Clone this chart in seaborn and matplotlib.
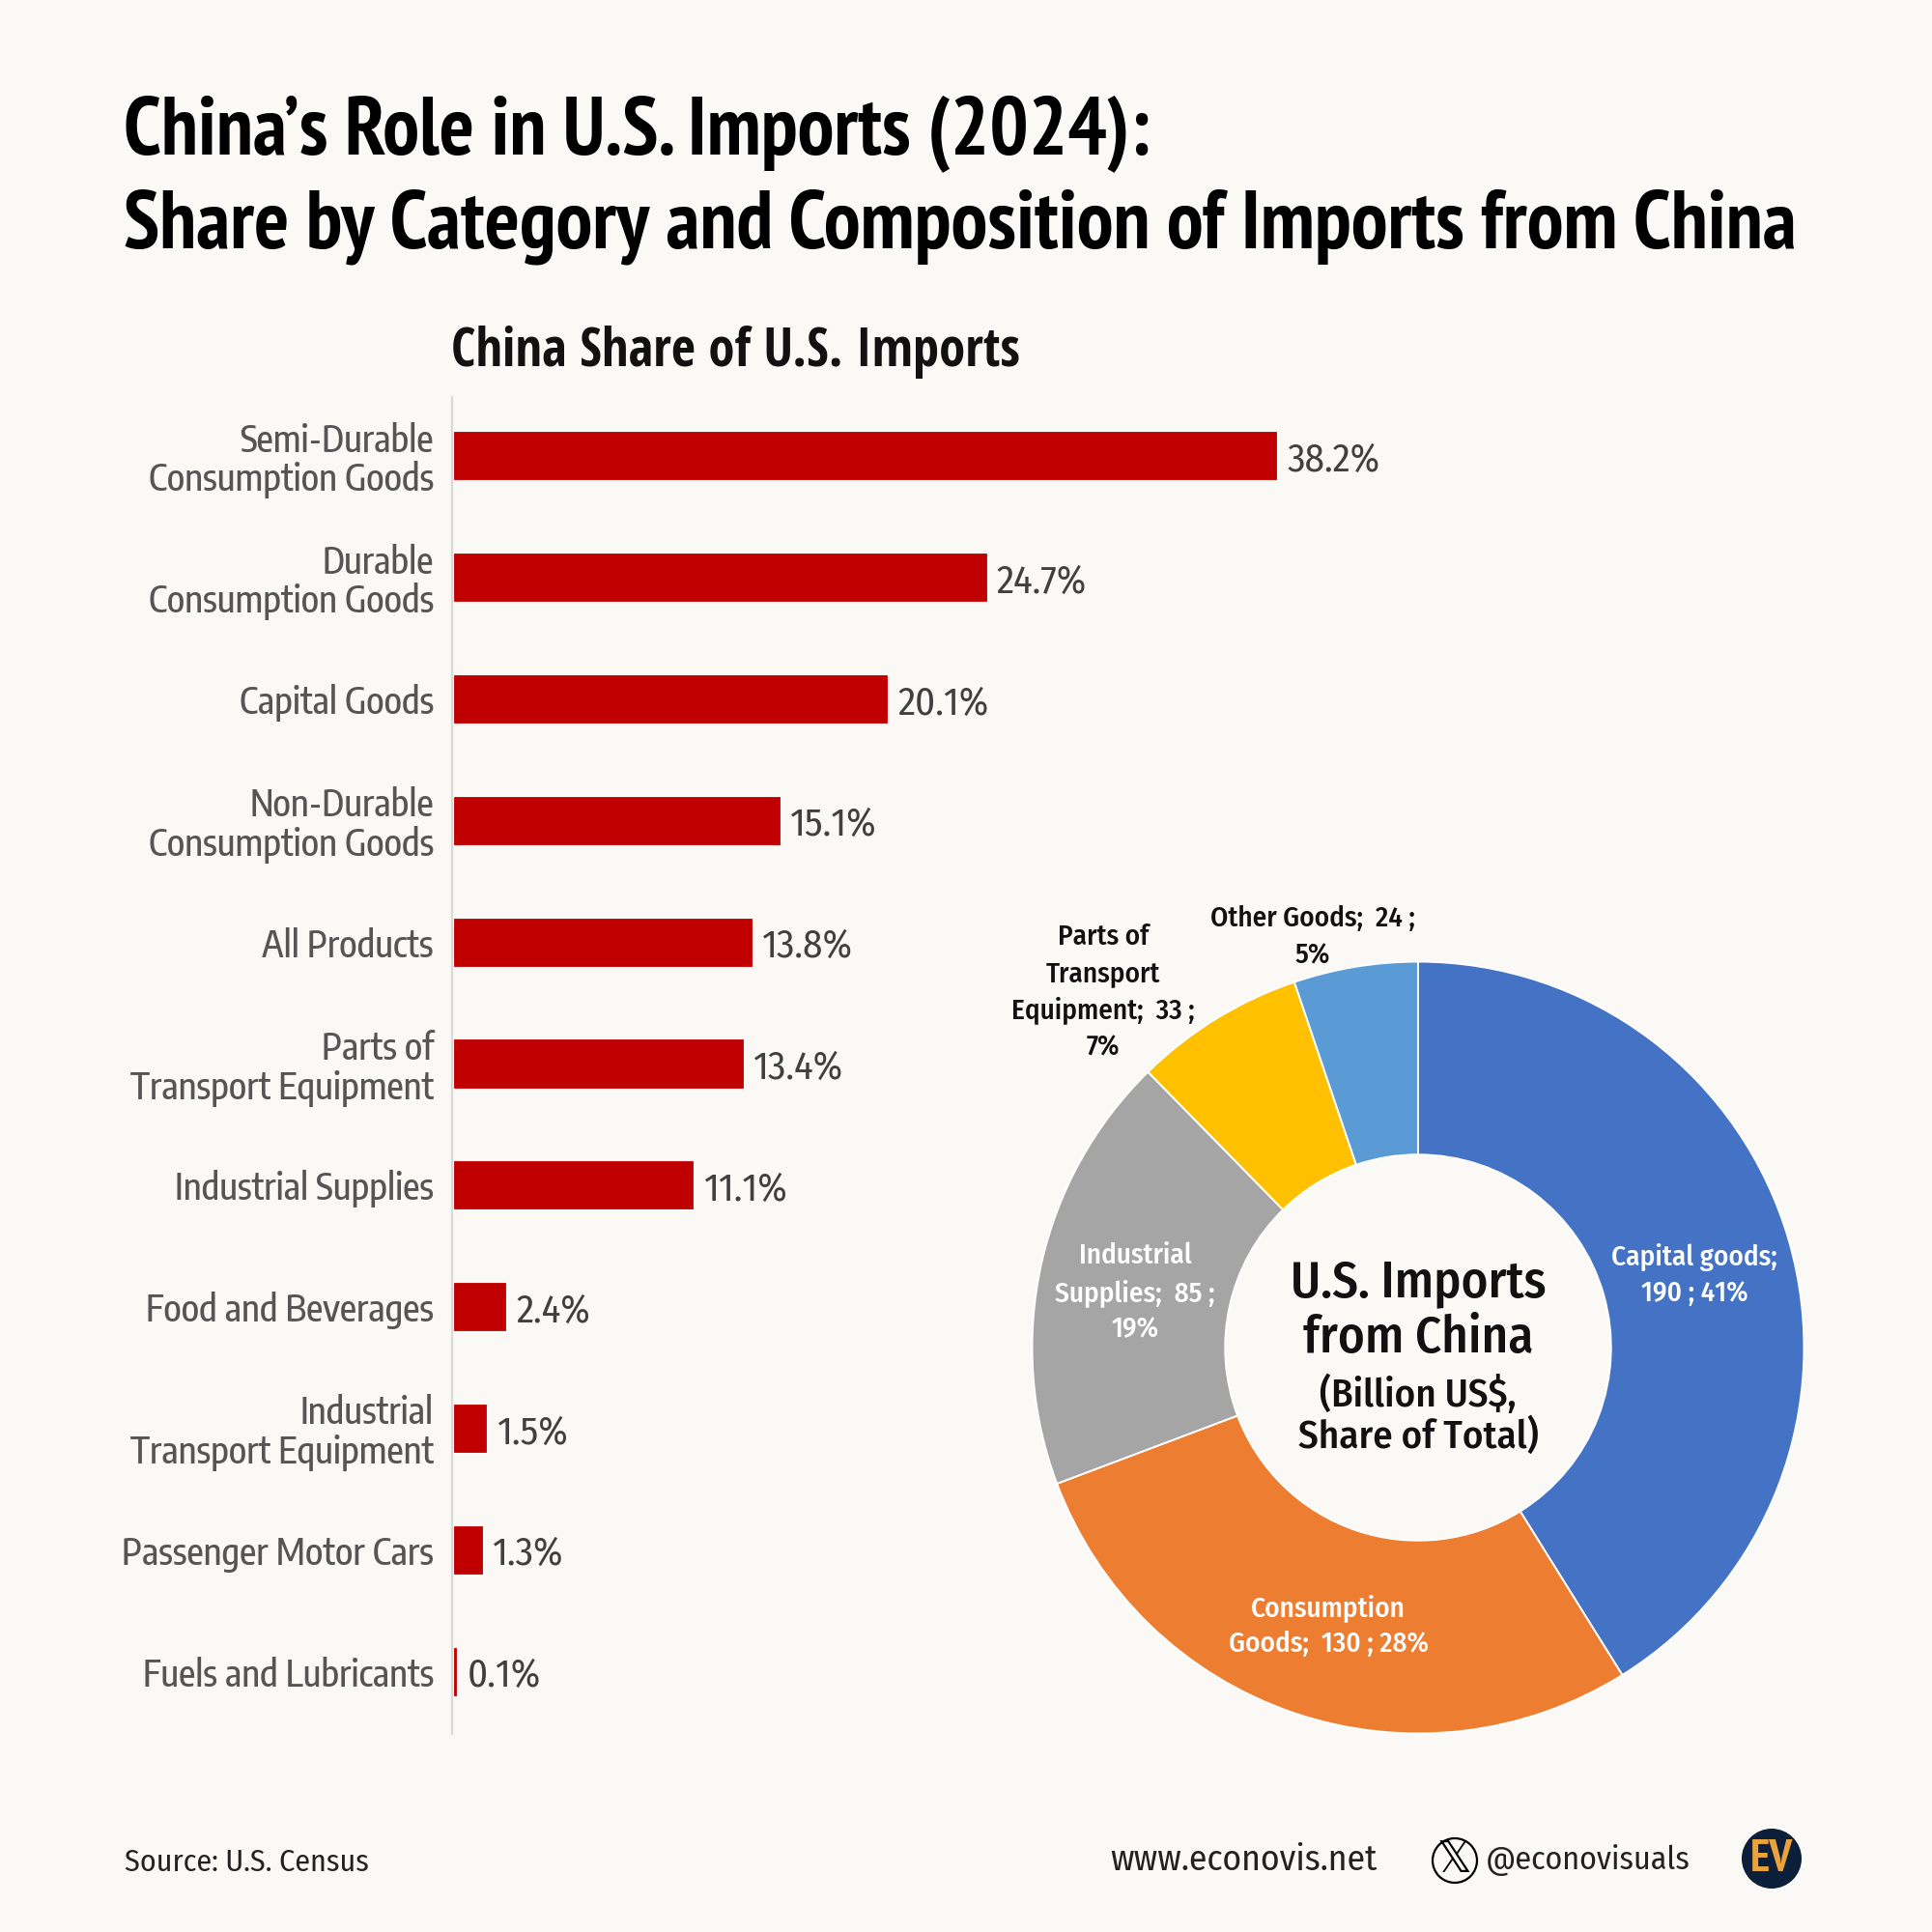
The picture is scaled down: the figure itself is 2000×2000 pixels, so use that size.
import matplotlib
matplotlib.use("Agg")
import matplotlib.pyplot as plt
import seaborn as sns
import pandas as pd
from matplotlib.patches import Circle

categories = [
    "Semi-Durable\nConsumption Goods", "Durable\nConsumption Goods", "Capital Goods",
    "Non-Durable\nConsumption Goods", "All Products", "Parts of\nTransport Equipment",
    "Industrial Supplies", "Food and Beverages", "Industrial\nTransport Equipment",
    "Passenger Motor Cars", "Fuels and Lubricants",
]
shares = [38.2, 24.7, 20.1, 15.1, 13.8, 13.4, 11.1, 2.4, 1.5, 1.3, 0.1]

pie_values = [190, 130, 85, 33, 24]
pie_colors = ["#4472C4", "#ED7D31", "#A5A5A5", "#FFC000", "#5B9BD5"]

BG = "#FAF9F5"
SIZE = 2000
# condensed faces first, the plain ones only as a safety net
TITLE_FONT = ["PT Sans Narrow", "Roboto", "DejaVu Sans"]
HEAD_FONT = ["Open Sans Condensed", "Roboto", "DejaVu Sans"]
LABEL_FONT = ["Encode Sans Condensed", "Roboto", "DejaVu Sans"]
BODY_FONT = ["Fira Sans Condensed", "Noto Sans", "DejaVu Sans"]

sns.set_theme(style="white")
plt.rcParams["font.family"] = BODY_FONT

fig = plt.figure(figsize=(10, 10), dpi=200, facecolor=BG)


def px(x, y):
    return x / SIZE, 1 - y / SIZE


def label(x, y, s, size, **kw):
    fx, fy = px(x, y)
    kw.setdefault("va", "center")
    fig.text(fx, fy, s, fontsize=size, **kw)


# bars
ax = fig.add_axes([470 / SIZE, 1 - 1795 / SIZE, 1003 / SIZE, 1384 / SIZE], facecolor="none")
df = pd.DataFrame({"category": categories, "share": shares})
sns.barplot(data=df, y="category", x="share", color="#C00000", saturation=1, width=0.39,
            edgecolor="#C00000", linewidth=0.3, ax=ax)
ax.set_xlim(0, 45)
ax.set_ylim(10.516, -0.484)
ax.set_xlabel("")
ax.set_ylabel("")
ax.set_xticks([])
sns.despine(ax=ax, top=True, right=True, bottom=True)
ax.spines["left"].set_color("#D9D9D9")
ax.spines["left"].set_linewidth(0.8)
ax.spines["left"].set_position(("outward", 0.6))
ax.tick_params(axis="y", length=0, pad=7)
for t in ax.get_yticklabels():
    t.set_family(LABEL_FONT)
    t.set_fontsize(13.6)
    t.set_weight(500)
    t.set_color("#555555")
    t.set_linespacing(1.05)
value_labels = ax.bar_label(ax.containers[0], fmt="%.1f%%", padding=4, fontsize=14.7, color="#404040", family=BODY_FONT)
for v in value_labels:
    v.xyann = (4, -1.8)

# donut
pie_ax = fig.add_axes([(1468 - 399.5) / SIZE, 1 - (1395 + 399.5) / SIZE, 799 / SIZE, 799 / SIZE])
pie_ax.pie(pie_values, colors=pie_colors, startangle=90, counterclock=False, radius=1,
           wedgeprops={"width": 0.5, "edgecolor": "white", "linewidth": 0.7})
pie_ax.set_xlim(-1, 1)
pie_ax.set_ylim(-1, 1)

pie_text = {"ha": "center", "weight": 500, "linespacing": 1.42}
label(1754, 1320, "Capital goods;\n190 ; 41%", 10.5, color="white", **pie_text)
label(1375, 1683, "Consumption\nGoods;  130 ; 28%", 10.5, color="white", **pie_text)
label(1175, 1338, "Industrial\nSupplies;  85 ;\n19%", 10.5, color="white", **pie_text)
label(1142, 1027, "Parts of\nTransport\nEquipment;  33 ;\n7%", 10.5, color="#111111", **pie_text)
label(1359, 970, "Other Goods;  24 ;\n5%", 10.5, color="#111111", **pie_text)

label(1468, 1328, "U.S. Imports", 19, color="#111111", ha="center", weight=500)
label(1468, 1386, "from China", 19, color="#111111", ha="center", weight=500)
label(1468, 1444, "(Billion US$,", 14.7, color="#111111", ha="center", weight=500)
label(1468, 1487, "Share of Total)", 14.7, color="#111111", ha="center", weight=500)

# titles
label(128, 138, "China’s Role in U.S. Imports (2024):", 30.5, family=TITLE_FONT, weight="bold", color="black")
label(128, 235, "Share by Category and Composition of Imports from China", 30.5, family=TITLE_FONT, weight="bold", color="black")
label(467, 365, "China Share of U.S. Imports", 19.7, family=HEAD_FONT, weight="bold", color="#111111")

# footer
label(129, 1928, "Source: U.S. Census", 11.5, color="#222222")
label(1149, 1926, "www.econovis.net", 13.5, color="#222222")
label(1538, 1926, "@econovisuals", 12.2, color="#222222")
fig.add_artist(Circle(px(1506, 1926), 23 / SIZE, transform=fig.transFigure, fill=False, ec="black", lw=0.8))
label(1506, 1925, "𝕏", 16, ha="center", color="black", family="DejaVu Sans")
fig.add_artist(Circle(px(1834, 1924), 31 / SIZE, transform=fig.transFigure, fc="#0B1F3A", ec="none"))
label(1834, 1925, "EV", 17, ha="center", color="#E8A33D", weight="bold", family=TITLE_FONT)

fig.savefig("out.png", dpi=200, facecolor=BG)
